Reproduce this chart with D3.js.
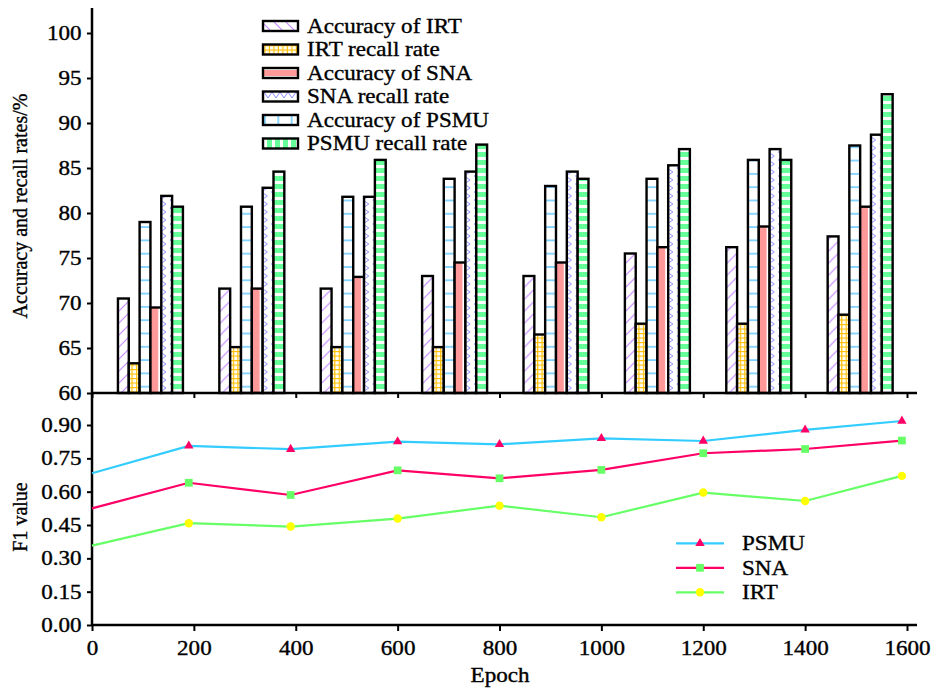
<!DOCTYPE html>
<html><head><meta charset="utf-8">
<script src="https://cdn.jsdelivr.net/npm/d3@7/dist/d3.min.js"></script>
<style>
body{margin:0;background:#fff;}
svg text{font-family:"Liberation Serif","Times New Roman",serif !important;fill:#000;stroke:#000;stroke-width:0.35px;}
</style></head>
<body><svg id="c" width="933" height="688"></svg>
<script>
// ---------- data ----------
const groups = ["1","2","3","4","5","6","7","8"];
const accIRT  = [70.5,71.6,71.6,73.0,73.0,75.5,76.2,77.4];
const recIRT  = [63.3,65.1,65.1,65.1,66.5,67.7,67.7,68.7];
const accSNA  = [69.5,71.6,72.9,74.5,74.5,76.2,78.5,80.7];
const recSNA  = [81.9,82.8,81.8,84.6,84.6,85.3,87.1,88.7];
const accPSMU = [79.0,80.7,81.8,83.8,83.0,83.8,85.9,87.5];
const recPSMU = [80.7,84.6,85.9,87.6,83.8,87.1,85.9,93.2];
const barLegend = ["Accuracy of IRT","IRT recall rate","Accuracy of SNA","SNA recall rate","Accuracy of PSMU","PSMU recall rate"];
const topTicks = [60,65,70,75,80,85,90,95,100];

const epochs = [0,190,390,600,800,1000,1200,1400,1590];
const f1PSMU = [0.683,0.806,0.791,0.825,0.813,0.840,0.828,0.878,0.918];
const f1SNA  = [0.525,0.640,0.585,0.696,0.660,0.698,0.773,0.792,0.830];
const f1IRT  = [0.357,0.458,0.443,0.479,0.537,0.485,0.596,0.558,0.671];
const lineNames = ["PSMU","SNA","IRT"];
const botTicks = [0,0.15,0.30,0.45,0.60,0.75,0.90];
const epochTicks = [0,200,400,600,800,1000,1200,1400,1600];

// ---------- setup ----------
const FONT = "'Liberation Serif','Times New Roman',serif";
const svg = d3.select("#c");
// horizontal text stretch, measured so the legend label matches the reference width
const probe = svg.append("text").attr("font-size",20).style("font-family",FONT).text("Accuracy of IRT");
let SX = 155 / probe.node().getComputedTextLength();
if (!isFinite(SX) || SX < 0.9 || SX > 1.4) SX = 1.12;
probe.remove();
const defs = svg.append("defs");

function pat(id, w, h, build, rot){
  const p = defs.append("pattern").attr("id", id).attr("patternUnits","userSpaceOnUse")
    .attr("width", w).attr("height", h);
  if (rot) p.attr("patternTransform", "rotate(90)");
  p.append("rect").attr("width", w).attr("height", h).attr("fill", "#fff");
  build(p);
}
function makePatterns(suffix, rot){
  pat("pIrtAcc"+suffix, 12, 12, p => p.append("path").attr("d","M-1,13 L13,-1 M-1,1 L1,-1 M11,13 L13,11").attr("stroke","#c58cff").attr("stroke-width",1.2), rot);
  pat("pIrtRec"+suffix, 4.5, 4.5, p => p.append("path").attr("d","M0.5,0 V4.5 M0,0.5 H4.5").attr("stroke","#ffbf00").attr("stroke-width",1.4), rot);
  pat("pPsmuAcc"+suffix, 12, 13.3, p => p.append("path").attr("d","M0,1 H12").attr("stroke","#66c8ff").attr("stroke-width",1.5), rot);
  pat("pSnaRec"+suffix, 10, 8, p => p.append("path").attr("d","M2,0 L8,4 L2,8").attr("fill","none").attr("stroke","#8c8cff").attr("stroke-width",1), rot);
  pat("pPsmuRec"+suffix, 12, 8, p => p.append("rect").attr("y",0).attr("width",12).attr("height",5).attr("fill","#66ff99"), rot);
}
makePatterns("", false);
makePatterns("L", true);
// pink (SNA accuracy) patterns
const pk = defs.append("pattern").attr("id","pSnaAcc").attr("patternContentUnits","objectBoundingBox").attr("width",1).attr("height",1);
pk.append("rect").attr("width",1).attr("height",1).attr("fill","#fff");
pk.append("rect").attr("width",0.72).attr("height",1).attr("fill","#ff9999");
const pkL = defs.append("pattern").attr("id","pSnaAccL").attr("patternContentUnits","objectBoundingBox").attr("width",1).attr("height",1);
pkL.append("rect").attr("width",1).attr("height",1).attr("fill","#fff");
pkL.append("rect").attr("y",0.2).attr("width",1).attr("height",0.6).attr("fill","#ff9999");

// bar series in drawing order (position within group)
const barSeries = [
  {name:"Accuracy of IRT", vals:accIRT, fill:"pIrtAcc"},
  {name:"IRT recall rate", vals:recIRT, fill:"pIrtRec"},
  {name:"Accuracy of PSMU", vals:accPSMU, fill:"pPsmuAcc"},
  {name:"Accuracy of SNA", vals:accSNA, fill:"pSnaAcc"},
  {name:"SNA recall rate", vals:recSNA, fill:"pSnaRec"},
  {name:"PSMU recall rate", vals:recPSMU, fill:"pPsmuRec"}
];
const legendFill = {"Accuracy of IRT":"pIrtAccL","IRT recall rate":"pIrtRecL","Accuracy of SNA":"pSnaAccL",
  "SNA recall rate":"pSnaRecL","Accuracy of PSMU":"pPsmuAccL","PSMU recall rate":"pPsmuRecL"};

// ---------- scales ----------
const X0 = 92, X1 = 907;
const xLin = d3.scaleLinear().domain([0,1600]).range([X0, X1]);
const yTop = d3.scaleLinear().domain([60,100]).range([393,33]);
const yBot = d3.scaleLinear().domain([0,0.9]).range([625,425]);
const xBand = d3.scaleBand().domain(groups).range([99.7,910.9]).paddingInner(0.359).paddingOuter(0.18);
const xInner = d3.scaleBand().domain(barSeries.map(d=>d.name)).range([0, xBand.bandwidth()]);

// ---------- top panel bars ----------
const gBars = svg.append("g");
groups.forEach((g,i) => {
  const gg = gBars.append("g").attr("transform", `translate(${xBand(g)},0)`);
  gg.selectAll("rect").data(barSeries).join("rect")
    .attr("x", d => xInner(d.name))
    .attr("y", d => yTop(d.vals[i]))
    .attr("width", xInner.bandwidth())
    .attr("height", d => yTop(60) - yTop(d.vals[i]))
    .attr("fill", d => `url(#${d.fill})`)
    .attr("stroke", "#000").attr("stroke-width", 2.4);
});

// ---------- axes ----------
function styleAxis(g){
  g.attr("font-family", FONT);
  g.select(".domain").attr("stroke","#000").attr("stroke-width",2.5);
  g.selectAll(".tick line").attr("stroke","#000").attr("stroke-width",2);
  g.selectAll(".tick text").attr("font-size",20).style("font-family",FONT).attr("fill","#000")
    .attr("transform", `scale(${SX},1)`);
}
// top y axis
const ayTop = svg.append("g").attr("transform",`translate(${X0},0)`)
  .call(d3.axisLeft(yTop).tickValues(topTicks).tickSize(5).tickPadding(4).tickSizeOuter(0));
styleAxis(ayTop);
ayTop.select(".domain").attr("d", `M0,${yTop(60)}V8`);
// top x axis (no labels)
const axTop = svg.append("g").attr("transform",`translate(0,393)`)
  .call(d3.axisBottom(xLin).tickValues(epochTicks).tickSize(5).tickFormat("").tickSizeOuter(0));
styleAxis(axTop);
axTop.select(".domain").attr("d", `M${X0},0H917`);

// bottom y axis
const ayBot = svg.append("g").attr("transform",`translate(${X0},0)`)
  .call(d3.axisLeft(yBot).tickValues(botTicks).tickFormat(d3.format(".2f")).tickSize(5).tickPadding(4).tickSizeOuter(0));
styleAxis(ayBot);
ayBot.select(".domain").attr("d", `M0,625V393`);
// bottom x axis
const axBot = svg.append("g").attr("transform",`translate(0,625)`)
  .call(d3.axisBottom(xLin).tickValues(epochTicks).tickFormat(d3.format("d")).tickSize(6).tickPadding(10).tickSizeOuter(0));
styleAxis(axBot);
axBot.select(".domain").attr("d", `M${X0},0H917`);

// ---------- lines ----------
const lineSeries = [
  {name:"PSMU", vals:f1PSMU, stroke:"#33ccff", marker:"triangle", mfill:"#ff0066"},
  {name:"SNA",  vals:f1SNA,  stroke:"#ff0066", marker:"square",   mfill:"#66ff66"},
  {name:"IRT",  vals:f1IRT,  stroke:"#66ff66", marker:"circle",   mfill:"#ffff00"}
];
const symType = {triangle:d3.symbolTriangle, square:d3.symbolSquare, circle:d3.symbolCircle};
const symSize = {triangle:38, square:60, circle:55};
const line = d3.line().x(d => xLin(d[0])).y(d => yBot(d[1]));
lineSeries.forEach(s => {
  const pts = epochs.map((e,i) => [e, s.vals[i]]);
  svg.append("path").datum(pts).attr("d", line).attr("fill","none")
    .attr("stroke", s.stroke).attr("stroke-width", 2.2);
  svg.append("g").selectAll("path").data(pts.slice(1)).join("path")
    .attr("transform", d => `translate(${xLin(d[0])},${yBot(d[1])})`)
    .attr("d", d3.symbol().type(symType[s.marker]).size(symSize[s.marker]))
    .attr("fill", s.mfill);
});

// ---------- legends ----------
function hText(parent, x, y, str, anchor){
  return parent.append("text").attr("transform", `translate(${x},${y}) scale(${SX},1)`)
    .attr("text-anchor", anchor || "start").attr("font-size", 20).style("font-family",FONT).text(str);
}
const lgTop = svg.append("g");
barLegend.forEach((name, i) => {
  const cy = 26 + 23.5*i;
  lgTop.append("rect").attr("x", 263).attr("y", cy-5).attr("width", 35).attr("height", 10)
    .attr("fill", `url(#${legendFill[name]})`).attr("stroke","#000").attr("stroke-width",2.4);
  hText(lgTop, 307, cy+6.5, name);
});

const lgBot = svg.append("g");
lineSeries.forEach((s, i) => {
  const cy = 543.3 + 24.5*i;
  lgBot.append("line").attr("x1", 676).attr("x2", 724).attr("y1", cy).attr("y2", cy)
    .attr("stroke", s.stroke).attr("stroke-width", 2.2);
  lgBot.append("path").attr("transform", `translate(700,${cy})`)
    .attr("d", d3.symbol().type(symType[s.marker]).size(symSize[s.marker])).attr("fill", s.mfill);
  hText(lgBot, 742, cy+7, s.name);
});

// ---------- titles ----------
svg.append("text").attr("transform","translate(27,206) rotate(-90)").attr("text-anchor","middle")
  .attr("font-size",20).style("font-family",FONT).text("Accuracy and recall rates/%");
svg.append("text").attr("transform","translate(27,517) rotate(-90)").attr("text-anchor","middle")
  .attr("font-size",20).style("font-family",FONT).text("F1 value");
hText(svg, 500, 682, "Epoch", "middle");
</script></body></html>
